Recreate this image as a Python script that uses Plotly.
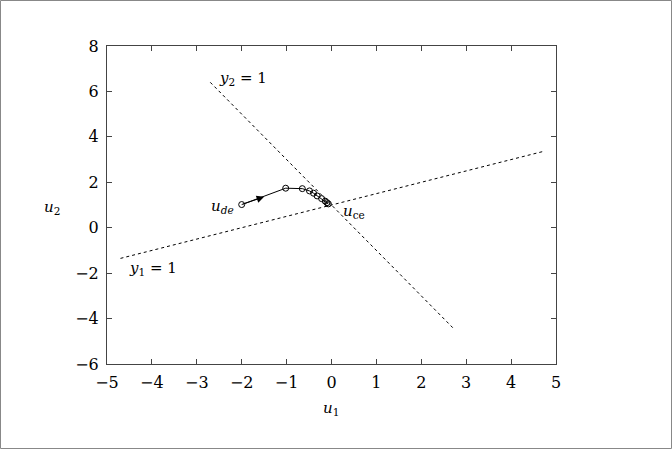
import plotly.graph_objects as go

# Constraint lines (endpoints)
y1_u1 = [-4.7, 4.7]
y1_u2 = [-1.35, 3.35]
y2_u1 = [-2.7, 2.7]
y2_u2 = [6.4, -4.4]

# Iteration trajectory u_de -> u_ce
traj_u1 = [-2.0, -1.02, -0.65, -0.49, -0.40, -0.32, -0.22, -0.14, -0.10, -0.07]
traj_u2 = [1.02, 1.74, 1.72, 1.62, 1.52, 1.40, 1.28, 1.17, 1.10, 1.05]

xticks = [-5, -4, -3, -2, -1, 0, 1, 2, 3, 4, 5]
yticks = [-6, -4, -2, 0, 2, 4, 6, 8]

FONT = "DejaVu Serif, Liberation Serif, serif"

fig = go.Figure()
fig.add_trace(go.Scatter(x=y1_u1, y=y1_u2, mode="lines",
                         line=dict(color="black", width=1, dash="dot"), showlegend=False))
fig.add_trace(go.Scatter(x=y2_u1, y=y2_u2, mode="lines",
                         line=dict(color="black", width=1, dash="dot"), showlegend=False))
fig.add_trace(go.Scatter(x=traj_u1, y=traj_u2, mode="lines+markers",
                         line=dict(color="black", width=1),
                         marker=dict(symbol="circle-open", size=6, color="black", line=dict(width=1)),
                         showlegend=False))

# arrow head on the first segment
fig.add_annotation(x=-1.5, y=1.36, ax=-2.0, ay=1.02, xref="x", yref="y", axref="x", ayref="y",
                   showarrow=True, arrowhead=2, arrowsize=1.5, arrowwidth=1, arrowcolor="black", text="")

ann_font = dict(family=FONT, size=15, color="black")
fig.add_annotation(x=-2.55, y=6.55, text="<i>y</i><sub>2</sub> = 1", showarrow=False,
                   xanchor="left", yanchor="middle", font=ann_font)
fig.add_annotation(x=-4.55, y=-1.8, text="<i>y</i><sub>1</sub> = 1", showarrow=False,
                   xanchor="left", yanchor="middle", font=ann_font)
fig.add_annotation(x=-2.12, y=0.92, text="<i>u</i><sub><i>de</i></sub>", showarrow=False,
                   xanchor="right", yanchor="middle", font=ann_font)
fig.add_annotation(x=0.22, y=0.72, text="<i>u</i><sub>ce</sub>", showarrow=False,
                   xanchor="left", yanchor="middle", font=ann_font)

# axis titles
fig.add_annotation(x=(52 - 107) / 449, y=(364 - 207) / 318, xref="paper", yref="paper",
                   text="<i>u</i><sub>2</sub>", showarrow=False, xanchor="center", yanchor="middle",
                   font=ann_font)
fig.add_annotation(x=(331 - 107) / 449, y=-(408 - 364) / 318, xref="paper", yref="paper",
                   text="<i>u</i><sub>1</sub>", showarrow=False, xanchor="center", yanchor="middle",
                   font=ann_font)

# whole-figure border
fig.add_shape(type="rect", xref="paper", yref="paper",
              x0=-106.5 / 449, x1=(671.5 - 107) / 449, y0=-(448.5 - 364) / 318, y1=(364 - 0.5) / 318,
              line=dict(color="#888888", width=1), fillcolor="rgba(0,0,0,0)", layer="below")

axis_common = dict(showgrid=False, zeroline=False, showline=True, linecolor="#444444", linewidth=1,
                   mirror="ticks", ticks="inside", ticklen=5, tickcolor="#444444",
                   ticklabelstandoff=4,
                   tickfont=dict(family=FONT, size=16, color="black"))
fig.update_xaxes(range=[-5, 5], tickvals=xticks, **axis_common)
fig.update_yaxes(range=[-6, 8], tickvals=yticks, **axis_common)

fig.update_layout(width=672, height=449, margin=dict(l=107, r=116, t=46, b=85),
                  paper_bgcolor="white", plot_bgcolor="white", showlegend=False)

fig.write_html("out.html", config={"displayModeBar": False},
               post_script="document.body.style.margin='0';")
